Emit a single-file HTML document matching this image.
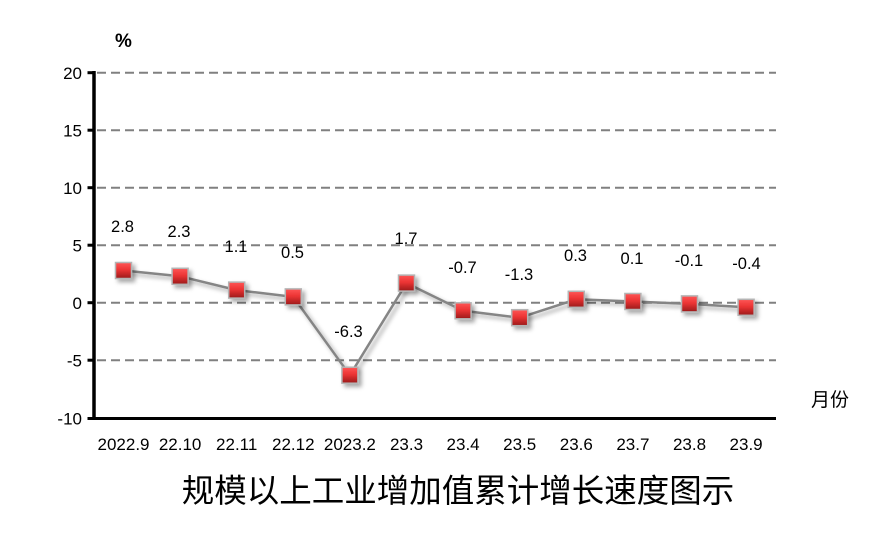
<!DOCTYPE html>
<html>
<head>
<meta charset="utf-8">
<style>
html,body{margin:0;padding:0;background:#fff;}
svg{display:block;}
text{font-family:"Liberation Sans","Noto Sans CJK SC",sans-serif;fill:#000;}
.cjk{font-family:"Liberation Sans","Noto Sans CJK SC","WenQuanYi Zen Hei",sans-serif;}
</style>
</head>
<body>
<svg width="886" height="537" viewBox="0 0 886 537" xmlns="http://www.w3.org/2000/svg">
<defs>
<linearGradient id="mg" x1="0" y1="0" x2="0" y2="1">
<stop offset="0" stop-color="#ff5656"/>
<stop offset="0.45" stop-color="#ec3434"/>
<stop offset="1" stop-color="#9a1a1a"/>
</linearGradient>
<filter id="sh" x="-30%" y="-30%" width="160%" height="160%">
<feDropShadow dx="3" dy="3" stdDeviation="2" flood-color="#000" flood-opacity="0.35"/>
</filter>
</defs>

<!-- gridlines -->
<g stroke="#808080" stroke-width="2" stroke-dasharray="9,5">
<line x1="97" y1="72.7" x2="776" y2="72.7"/>
<line x1="97" y1="130.2" x2="776" y2="130.2"/>
<line x1="97" y1="187.7" x2="776" y2="187.7"/>
<line x1="97" y1="245.2" x2="776" y2="245.2"/>
<line x1="97" y1="302.7" x2="776" y2="302.7"/>
<line x1="97" y1="360.2" x2="776" y2="360.2"/>
</g>

<!-- axes -->
<g stroke="#000">
<line x1="94" y1="71" x2="94" y2="420" stroke-width="3.5"/>
<line x1="92" y1="418.5" x2="776" y2="418.5" stroke-width="3"/>
<g stroke-width="3">
<line x1="87.5" y1="72.7" x2="94" y2="72.7"/>
<line x1="87.5" y1="130.2" x2="94" y2="130.2"/>
<line x1="87.5" y1="187.7" x2="94" y2="187.7"/>
<line x1="87.5" y1="245.2" x2="94" y2="245.2"/>
<line x1="87.5" y1="302.7" x2="94" y2="302.7"/>
<line x1="87.5" y1="360.2" x2="94" y2="360.2"/>
<line x1="87.5" y1="418.5" x2="94" y2="418.5"/>
</g>
</g>

<!-- y labels -->
<g font-size="17" text-anchor="end">
<text x="82" y="79">20</text>
<text x="82" y="136.5">15</text>
<text x="82" y="194">10</text>
<text x="82" y="251.5">5</text>
<text x="82" y="309">0</text>
<text x="82" y="366.5">-5</text>
<text x="82" y="424.5">-10</text>
</g>

<text x="115" y="47" font-size="19" font-weight="bold">%</text>

<!-- series line -->
<polyline filter="url(#sh)" fill="none" stroke="#858585" stroke-width="2.5" stroke-linejoin="round"
points="123.5,270.5 180.1,276.3 236.7,290.1 293.3,296.9 349.9,375.2 406.5,283.1 463.1,310.8 519.7,317.7 576.3,299.3 632.9,301.5 689.5,303.9 746.1,307.3"/>

<!-- markers -->
<g filter="url(#sh)" fill="url(#mg)" stroke="#b4b4b4" stroke-width="1.5">
<rect x="115.5" y="262.5" width="16" height="16"/>
<rect x="172.1" y="268.3" width="16" height="16"/>
<rect x="228.7" y="282.1" width="16" height="16"/>
<rect x="285.3" y="288.9" width="16" height="16"/>
<rect x="341.9" y="367.2" width="16" height="16"/>
<rect x="398.5" y="275.1" width="16" height="16"/>
<rect x="455.1" y="302.8" width="16" height="16"/>
<rect x="511.7" y="309.7" width="16" height="16"/>
<rect x="568.3" y="291.3" width="16" height="16"/>
<rect x="624.9" y="293.5" width="16" height="16"/>
<rect x="681.5" y="295.9" width="16" height="16"/>
<rect x="738.1" y="299.3" width="16" height="16"/>
</g>

<!-- data labels -->
<g font-size="16.5" text-anchor="middle">
<text x="122.5" y="232">2.8</text>
<text x="179" y="237">2.3</text>
<text x="236" y="252">1.1</text>
<text x="292.5" y="258">0.5</text>
<text x="348.5" y="337">-6.3</text>
<text x="406" y="244">1.7</text>
<text x="462.5" y="273">-0.7</text>
<text x="519" y="280">-1.3</text>
<text x="575.5" y="261">0.3</text>
<text x="632" y="264">0.1</text>
<text x="689" y="266">-0.1</text>
<text x="746.5" y="269">-0.4</text>
</g>

<!-- x labels -->
<g font-size="17" text-anchor="middle">
<text x="123.5" y="450">2022.9</text>
<text x="180.1" y="450">22.10</text>
<text x="236.7" y="450">22.11</text>
<text x="293.3" y="450">22.12</text>
<text x="349.9" y="450">2023.2</text>
<text x="406.5" y="450">23.3</text>
<text x="463.1" y="450">23.4</text>
<text x="519.7" y="450">23.5</text>
<text x="576.3" y="450">23.6</text>
<text x="632.9" y="450">23.7</text>
<text x="689.5" y="450">23.8</text>
<text x="746.1" y="450">23.9</text>
</g>

<text class="cjk" x="811" y="406" font-size="19">月份</text>

<text class="cjk" x="458" y="502" font-size="32.5" text-anchor="middle">规模以上工业增加值累计增长速度图示</text>
</svg>
</body>
</html>
